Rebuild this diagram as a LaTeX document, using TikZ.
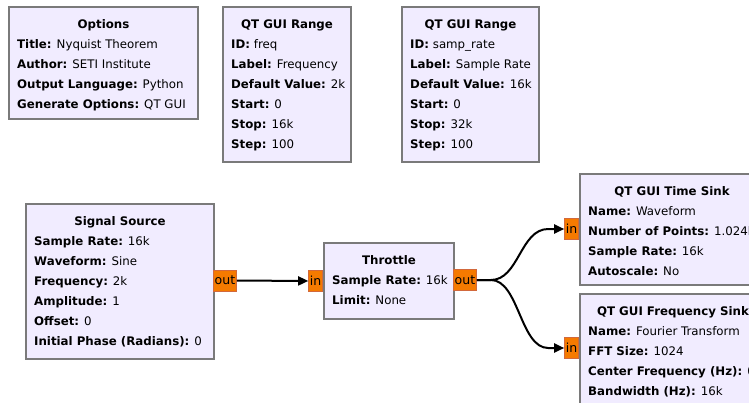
\documentclass[tikz,border=0pt]{standalone}
\usepackage{fontspec}
\setmainfont{DejaVu Sans}
\usetikzlibrary{calc,arrows.meta}
\definecolor{blockfill}{HTML}{F1ECFF}
\definecolor{blockborder}{HTML}{7A7A7A}
\definecolor{portfill}{HTML}{F57A00}
\definecolor{portborder}{HTML}{D2693C}
\tikzset{
  blockbox/.style={draw=blockborder, fill=blockfill, line width=2pt, inner sep=0pt, anchor=north west},
  titletext/.style={font=\fontsize{11.8}{14}\selectfont\bfseries, inner sep=0pt, anchor=base},
  linetext/.style={font=\fontsize{11.8}{14}\selectfont, inner sep=0pt, anchor=base west},
  port/.style={draw=portborder, fill=portfill, line width=1pt, inner xsep=1.2pt, inner ysep=0pt,
    minimum height=21pt, font=\fontsize{12.5}{14}\selectfont},
  conn/.style={draw=black, line width=2pt, -{Triangle[length=10pt,width=9pt]}},
}
\newcommand\grcblock[7]{%
  \node[blockbox, minimum width=#4pt, minimum height=#5pt] (#1) at (#2,#3) {};
  \node[titletext] (#1-t) at ($(#1.north)+(0,22.5)$) {#6};
  \foreach \k/\v [count=\i] in {#7}{%
    \node[linetext] (#1-l\i) at ($(#1.north west)+(9,22.5+20*\i)$) {\textbf{\k:} \v};
  }%
}
\begin{document}
\begin{tikzpicture}[x=1pt,y=-1pt]
\useasboundingbox (0,0) rectangle (749,402);
\clip (0,0) rectangle (749,402);
\fill[white] (0,0) rectangle (749,402);

\grcblock{opts}{8}{6}{189}{112}{Options}{Title/Nyquist Theorem, Author/SETI Institute, Output Language/Python, Generate Options/QT GUI}
\grcblock{rng1}{222}{6}{128}{155}{QT GUI Range}{ID/freq, Label/Frequency, Default Value/2k, Start/0, Stop/16k, Step/100}
\grcblock{rng2}{401}{6}{137}{155}{QT GUI Range}{ID/samp\_rate, Label/Sample Rate, Default Value/16k, Start/0, Stop/32k, Step/100}
\grcblock{sig}{25}{203}{188}{155}{Signal Source}{Sample Rate/16k, Waveform/Sine, Frequency/2k, Amplitude/1, Offset/0, Initial Phase (Radians)/0}
\grcblock{thr}{323}{242}{130}{76}{Throttle}{Sample Rate/16k, Limit/None}
\grcblock{tsink}{579}{173}{184}{111}{QT GUI Time Sink}{Name/Waveform, Number of Points/1.024k, Sample Rate/16k, Autoscale/No}
\grcblock{fsink}{579}{293}{186}{155}{QT GUI Frequency Sink}{Name/Fourier Transform, FFT Size/1024, Center Frequency (Hz)/0, Bandwidth (Hz)/16k}

\node[port, anchor=west] (sigout) at (213,280.5) {out};
\node[port, anchor=east] (thrin) at (323,281) {in};
\node[port, anchor=west] (throut) at (453,280) {out};
\node[port, anchor=east] (tsin) at (579,229) {in};
\node[port, anchor=east] (fsin) at (579,348) {in};

\draw[conn] (sigout.east) -- (thrin.west);
\draw[conn] (throut.east) -- ++(14,0) .. controls +(28,0) and +(-28,0) .. ($(tsin.west)+(-16,0)$) -- (tsin.west);
\draw[conn] (throut.east) -- ++(14,0) .. controls +(28,0) and +(-28,0) .. ($(fsin.west)+(-16,0)$) -- (fsin.west);
\end{tikzpicture}
\end{document}
